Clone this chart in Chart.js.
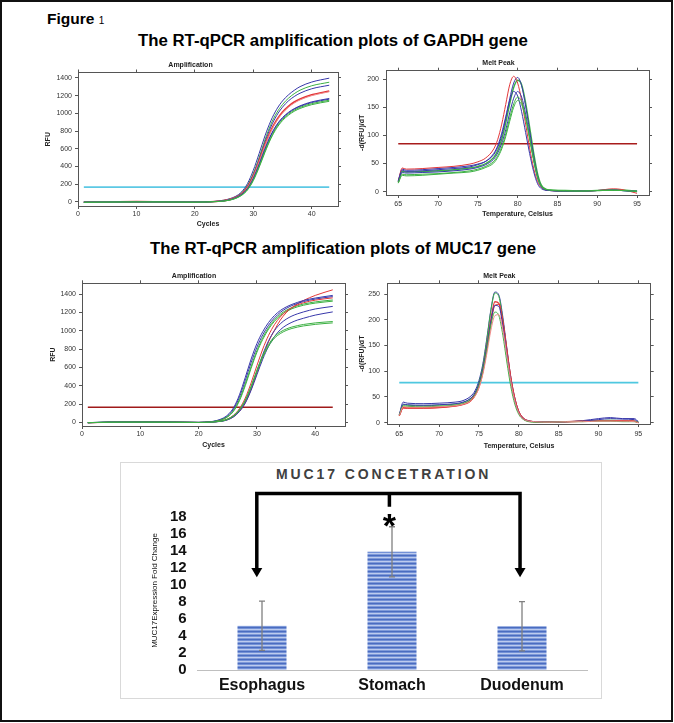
<!DOCTYPE html>
<html>
<head>
<meta charset="utf-8">
<title>Figure 1</title>
<script src="https://cdn.jsdelivr.net/npm/chart.js@4.4.1/dist/chart.umd.min.js"></script>
<style>
  body { margin: 0; background: #fff; font-family: 'Liberation Sans', Arial, sans-serif; }
  #page { position: relative; width: 674px; height: 723px; overflow: hidden; background: #fff; }
  #frame { position: absolute; left: 0; top: 0; width: 673px; height: 722px; box-sizing: border-box; border: 2px solid #111; }
  .txt { position: absolute; line-height: 1; white-space: nowrap; color: #000; font-weight: bold; }
  canvas { position: absolute; }
  #barBox { position: absolute; left: 120px; top: 462px; width: 482px; height: 237px; box-sizing: border-box; border: 1.5px solid #d9d9d9; }
</style>
</head>
<body>
<div id="page">
  <div id="frame"></div>
  <div class="txt" style="left:47px; top:11px; font-size:15.5px;">Figure <span style="font-size:10px; font-weight:normal;">1</span></div>
  <div class="txt" style="left:138px; top:32.5px; font-size:16.8px;">The RT-qPCR amplification plots of GAPDH gene</div>
  <div class="txt" style="left:150px; top:240.8px; font-size:16.8px;">The RT-qPCR amplification plots of MUC17 gene</div>

  <canvas id="gapdhAmp" width="310" height="180" style="left:40px; top:55px;"></canvas>
  <canvas id="gapdhMelt" width="316" height="180" style="left:345px; top:55px;"></canvas>
  <canvas id="mucAmp" width="320" height="192" style="left:40px; top:262px;"></canvas>
  <canvas id="mucMelt" width="320" height="192" style="left:345px; top:262px;"></canvas>

  <div id="barBox"></div>
  <div class="txt" style="left:276px; top:466.5px; font-size:14px; letter-spacing:2.9px; color:#404040;">MUC17 CONCETRATION</div>
  <canvas id="barChart" width="479" height="235" style="left:121px; top:463px;"></canvas>
</div>

<script>
// ---------- data ----------

// amplification plots: RFU at these cycles
const ampCycles = [1, 5, 10, 15, 20, 22, 24, 25, 26, 27, 28, 29, 30, 31, 32, 33, 34, 35, 36, 37, 38, 40, 43];
const ampXTicks = [0, 10, 20, 30, 40];
const ampYTicks = [0, 200, 400, 600, 800, 1000, 1200, 1400];

// GAPDH
const gapdhBlue1  = [-6, -4, -2, -3, -4, -1, 8, 18, 35, 62, 112, 205, 355, 545, 745, 915, 1045, 1140, 1208, 1260, 1302, 1354, 1398];
const gapdhGreen1 = [-5, -3, -1, -3, -4, -2, 6, 15, 30, 55, 100, 185, 320, 500, 700, 875, 1005, 1100, 1170, 1222, 1262, 1312, 1352];
const gapdhBlue2  = [-4, -3, 0, -2, -3, -1, 6, 14, 28, 52, 95, 175, 305, 480, 675, 845, 975, 1070, 1140, 1190, 1228, 1278, 1318];
const gapdhRed1   = [-3, -2, 1, -1, -2, 0, 6, 13, 27, 50, 90, 165, 290, 460, 645, 805, 925, 1015, 1080, 1128, 1163, 1210, 1252];
const gapdhRed2   = [-4, -2, 0, -2, -3, -1, 5, 12, 25, 47, 86, 160, 282, 450, 632, 792, 912, 1003, 1068, 1116, 1152, 1200, 1244];
const gapdhBlue3  = [-5, -3, -1, -2, -4, -2, 4, 11, 24, 46, 84, 150, 265, 425, 600, 755, 870, 952, 1010, 1053, 1085, 1130, 1168];
const gapdhBlue4  = [-4, -3, 0, -2, -3, -1, 4, 10, 22, 43, 80, 145, 258, 415, 590, 745, 862, 945, 1003, 1046, 1078, 1122, 1160];
const gapdhGreen2 = [-6, -4, -2, -3, -5, -3, 3, 9, 20, 40, 76, 138, 248, 400, 572, 725, 845, 930, 990, 1035, 1067, 1110, 1148];
const gapdhGreen3 = [-5, -3, -1, -2, -4, -2, 3, 9, 19, 38, 72, 132, 238, 388, 558, 712, 832, 918, 978, 1023, 1055, 1098, 1136];
const gapdhAmpThresholdX = [1, 43];
const gapdhAmpThreshold = 165;

// MUC17
const mucBlue1  = [-4, 2, 3, 2, -1, 6, 40, 82, 160, 300, 490, 690, 860, 990, 1090, 1165, 1220, 1258, 1287, 1310, 1330, 1356, 1385];
const mucBlue2  = [-3, 3, 4, 3, 0, 5, 35, 72, 145, 275, 455, 650, 820, 955, 1060, 1140, 1200, 1242, 1274, 1298, 1318, 1345, 1372];
const mucGreen1 = [-4, 1, 2, 1, -2, 4, 30, 65, 130, 250, 420, 610, 785, 925, 1035, 1118, 1180, 1222, 1252, 1274, 1291, 1314, 1335];
const mucGreen2 = [-3, 2, 3, 2, -1, 4, 28, 60, 122, 235, 400, 590, 765, 905, 1018, 1102, 1165, 1208, 1239, 1261, 1278, 1301, 1322];
const mucRed1   = [-5, 0, 2, 1, -2, 2, 14, 30, 62, 120, 215, 360, 540, 720, 880, 1005, 1115, 1195, 1250, 1295, 1330, 1385, 1446];
const mucRed2   = [-4, 1, 3, 2, -1, 3, 18, 38, 78, 150, 265, 430, 620, 800, 950, 1065, 1150, 1210, 1252, 1283, 1305, 1333, 1358];
const mucBlue3  = [-3, 2, 3, 2, -1, 3, 15, 33, 68, 130, 230, 380, 560, 740, 890, 1000, 1075, 1125, 1160, 1185, 1205, 1237, 1265];
const mucBlue4  = [-4, 1, 2, 1, -2, 2, 12, 28, 60, 118, 210, 350, 520, 690, 830, 935, 1010, 1058, 1092, 1117, 1136, 1170, 1205];
const mucGreen3 = [-3, 2, 3, 2, -1, 3, 16, 36, 74, 140, 245, 395, 570, 730, 850, 935, 985, 1018, 1040, 1056, 1068, 1085, 1100];
const mucGreen4 = [-4, 1, 2, 1, -2, 2, 14, 33, 70, 133, 235, 382, 555, 712, 832, 918, 968, 1002, 1024, 1040, 1052, 1069, 1085];
const mucAmpThresholdX = [1, 43];
const mucAmpThreshold = 164;

// melt peaks: -d(RFU)/dT at these temperatures
const meltXTicks = [65, 70, 75, 80, 85, 90, 95];
const gapdhMeltYTicks = [0, 50, 100, 150, 200];
const mucMeltYTicks = [0, 50, 100, 150, 200, 250];

const gapdhTemps = [65, 65.5, 66, 68, 70, 72, 74, 75, 76, 77, 77.5, 78, 78.5, 79, 79.5, 80, 80.5, 81, 81.5, 82, 82.5, 83, 84, 86, 88, 90, 92, 93, 95];
const gapdhMeltRed    = [18, 42, 40, 41, 43, 45, 49, 53, 60, 76, 93, 120, 155, 190, 205, 193, 162, 120, 78, 42, 18, 7, 2, 1, 1, 2, 5, 4, -3];
const gapdhMeltBlue1  = [20, 40, 38, 39, 41, 43, 46, 49, 54, 66, 79, 100, 130, 165, 193, 203, 188, 152, 108, 64, 28, 9, 2, 1, 1, 2, 3, 2, 0];
const gapdhMeltGreen1 = [17, 36, 35, 36, 37, 39, 42, 45, 50, 61, 73, 93, 122, 156, 185, 198, 190, 158, 115, 70, 32, 11, 3, 2, 1, 2, 3, 3, 1];
const gapdhMeltBlue2  = [19, 38, 36, 37, 39, 41, 44, 48, 54, 68, 82, 104, 133, 162, 178, 170, 142, 105, 68, 36, 14, 5, 2, 1, 1, 2, 2, 2, 1];
const gapdhMeltBlue3  = [18, 34, 33, 34, 35, 37, 40, 43, 48, 58, 69, 86, 110, 140, 166, 178, 168, 138, 98, 58, 25, 8, 2, 1, 1, 2, 3, 2, 0];
const gapdhMeltGreen2 = [16, 31, 30, 31, 32, 34, 37, 40, 45, 54, 64, 80, 103, 131, 156, 168, 160, 133, 96, 58, 26, 9, 3, 1, 1, 2, 3, 2, 1];
const gapdhMeltGreen3 = [15, 29, 28, 29, 31, 33, 35, 38, 43, 51, 61, 76, 98, 125, 150, 162, 155, 130, 94, 56, 25, 9, 3, 2, 1, 2, 2, 2, 0];
const gapdhMeltThresholdX = [65, 95];
const gapdhMeltThreshold = 85;

const mucTemps = [65, 65.5, 66, 68, 70, 72, 73, 74, 74.5, 75, 75.5, 76, 76.5, 77, 77.5, 78, 78.5, 79, 79.5, 80, 80.5, 81, 82, 84, 86, 88, 90, 91.5, 93, 94.5, 95];
const mucMeltBlue1  = [15, 40, 38, 37, 38, 40, 43, 52, 62, 82, 115, 165, 220, 254, 248, 205, 145, 88, 48, 22, 10, 5, 2, 1, 2, 4, 8, 10, 8, 8, 2];
const mucMeltGreen1 = [14, 35, 34, 33, 34, 36, 39, 48, 58, 78, 112, 162, 218, 252, 245, 200, 140, 84, 45, 20, 9, 4, 2, 1, 2, 3, 4, 5, 4, 3, 1];
const mucMeltRed1   = [14, 30, 29, 29, 30, 33, 36, 44, 54, 72, 102, 148, 200, 235, 232, 195, 140, 86, 46, 21, 9, 4, 2, 1, 2, 3, 4, 4, 4, 3, 0];
const mucMeltBlue2  = [16, 36, 35, 34, 35, 37, 40, 48, 58, 76, 106, 150, 198, 228, 226, 188, 133, 80, 42, 19, 8, 4, 2, 1, 2, 3, 6, 8, 7, 6, 1];
const mucMeltRed2   = [13, 28, 28, 28, 29, 32, 35, 42, 52, 68, 98, 142, 192, 228, 230, 196, 142, 88, 48, 22, 10, 5, 2, 1, 2, 3, 4, 4, 3, 3, 0];
const mucMeltGreen2 = [15, 33, 32, 31, 32, 34, 37, 45, 54, 72, 100, 143, 190, 215, 208, 170, 118, 70, 36, 16, 7, 3, 1, 1, 2, 2, 3, 3, 2, 2, 1];
const mucMeltRed3   = [14, 31, 30, 30, 31, 33, 36, 43, 52, 68, 95, 135, 180, 208, 210, 180, 130, 80, 42, 19, 8, 4, 2, 1, 2, 2, 3, 3, 3, 2, 0];
const mucMeltThresholdX = [65, 95];
const mucMeltThreshold = 78;

// bar chart: fold change with error (+/-)
const tissues = ['Esophagus', 'Stomach', 'Duodenum'];
const foldChange = [5.2, 13.9, 5.15];
const foldError = [2.9, 2.95, 2.9];
const foldTicks = [0, 2, 4, 6, 8, 10, 12, 14, 16, 18];

// ---------- drawing ----------
const FONT = "'Liberation Sans', Arial, sans-serif";
const BLUE = '#3737aa';
const GREEN = '#3cb043';
const RED = '#e3383a';
const PINK = '#f08a8a';

function toPoints(xs, ys) {
    return xs.map((x, i) => ({ x: x, y: ys[i] }));
}

// one traced curve
function curve(xs, ys, color, width) {
    return {
        data: toPoints(xs, ys),
        borderColor: color,
        borderWidth: width || 1,
        pointRadius: 0,
        cubicInterpolationMode: 'monotone',
        fill: false
    };
}

// flat threshold line between two x values
function threshold(xs, level, color) {
    return {
        data: xs.map(x => ({ x: x, y: level })),
        borderColor: color,
        borderWidth: 1.6,
        pointRadius: 0,
        fill: false
    };
}

// options shared by the four small instrument plots
function plotOptions(p) {
    const tickFont = { family: FONT, size: 7 };
    const boldFont = { family: FONT, size: 7, weight: 'bold' };
    const frame = { display: true, color: '#555', width: 1 };
    const marks = { drawOnChartArea: false, drawTicks: true, tickLength: 3, color: '#555' };
    const setTicks = list => (s => { s.ticks = list.map(v => ({ value: v })); });
    return {
        responsive: false,
        animation: false,
        layout: { padding: { left: 0, top: 0, right: p.padRight, bottom: 0 } },
        plugins: {
            legend: { display: false },
            tooltip: { enabled: false },
            title: {
                display: true, text: p.title, font: boldFont, color: '#222',
                padding: { top: p.titleTop, bottom: p.titleHeight - 8.4 - p.titleTop }
            }
        },
        scales: {
            x: {
                type: 'linear', position: 'bottom', min: p.xMin, max: p.xMax,
                border: frame, grid: marks,
                afterBuildTicks: setTicks(p.xTicks),
                afterFit: s => { s.height = p.xHeight; },
                ticks: { font: tickFont, color: '#333', padding: p.xTickPad, maxRotation: 0, autoSkip: false, callback: v => String(v) },
                title: { display: true, text: p.xTitle, font: boldFont, color: '#222', padding: { top: 0, bottom: p.xTitlePad } }
            },
            x2: {
                type: 'linear', position: 'top', min: p.xMin, max: p.xMax,
                border: frame, grid: marks,
                afterBuildTicks: setTicks(p.xTicks),
                afterFit: s => { s.height = 3; },
                ticks: { display: false }
            },
            y: {
                type: 'linear', position: 'left', min: p.yMin, max: p.yMax,
                border: frame, grid: marks,
                afterBuildTicks: setTicks(p.yTicks),
                afterFit: s => { s.width = p.yWidth; },
                ticks: { font: tickFont, color: '#333', padding: p.yTickPad, autoSkip: false, callback: v => String(v) },
                title: { display: true, text: p.yTitle, font: boldFont, color: '#222', padding: { top: p.yTitlePad, bottom: 0 } }
            },
            y2: {
                type: 'linear', position: 'right', min: p.yMin, max: p.yMax,
                border: frame, grid: marks,
                afterBuildTicks: setTicks(p.yTicks),
                afterFit: s => { s.width = 3; },
                ticks: { display: false }
            }
        }
    };
}

function drawPlot(id, datasets, p) {
    new Chart(document.getElementById(id), {
        type: 'line',
        data: { datasets: datasets },
        options: plotOptions(p)
    });
}

// GAPDH amplification
drawPlot('gapdhAmp', [
    curve(ampCycles, gapdhGreen3, GREEN),
    curve(ampCycles, gapdhGreen2, GREEN),
    curve(ampCycles, gapdhBlue4, BLUE),
    curve(ampCycles, gapdhBlue3, BLUE),
    curve(ampCycles, gapdhRed2, PINK),
    curve(ampCycles, gapdhRed1, RED, 1.6),
    curve(ampCycles, gapdhBlue2, BLUE),
    curve(ampCycles, gapdhGreen1, GREEN),
    curve(ampCycles, gapdhBlue1, BLUE),
    threshold(gapdhAmpThresholdX, gapdhAmpThreshold, '#5cc8e4')
], {
    title: 'Amplification', xTitle: 'Cycles', yTitle: 'RFU',
    xMin: 0, xMax: 44.5, yMin: -48, yMax: 1462, xTicks: ampXTicks, yTicks: ampYTicks,
    padRight: 9, titleTop: 5.8, titleHeight: 14.5,
    yWidth: 38, yTickPad: 3, yTitlePad: 3.8,
    xHeight: 29, xTickPad: 0.8, xTitlePad: 6.3
});

// GAPDH melt peak
drawPlot('gapdhMelt', [
    curve(gapdhTemps, gapdhMeltGreen3, GREEN),
    curve(gapdhTemps, gapdhMeltGreen2, GREEN),
    curve(gapdhTemps, gapdhMeltBlue3, BLUE),
    curve(gapdhTemps, gapdhMeltBlue2, BLUE),
    curve(gapdhTemps, gapdhMeltRed, RED),
    curve(gapdhTemps, gapdhMeltBlue1, BLUE),
    curve(gapdhTemps, gapdhMeltGreen1, GREEN, 1.4),
    threshold(gapdhMeltThresholdX, gapdhMeltThreshold, '#a81c1c')
], {
    title: 'Melt Peak', xTitle: 'Temperature, Celsius', yTitle: '-d(RFU)/dT',
    xMin: 63.46, xMax: 96.5, yMin: -6, yMax: 215, xTicks: meltXTicks, yTicks: gapdhMeltYTicks,
    padRight: 9, titleTop: 3.8, titleHeight: 12.7,
    yWidth: 41, yTickPad: 4, yTitlePad: 12.8,
    xHeight: 40, xTickPad: 2.3, xTitlePad: 16.8
});

// MUC17 amplification
drawPlot('mucAmp', [
    curve(ampCycles, mucGreen4, GREEN),
    curve(ampCycles, mucGreen3, GREEN),
    curve(ampCycles, mucBlue4, BLUE),
    curve(ampCycles, mucBlue3, BLUE),
    curve(ampCycles, mucRed2, RED),
    curve(ampCycles, mucGreen2, GREEN),
    curve(ampCycles, mucGreen1, GREEN),
    curve(ampCycles, mucBlue2, BLUE),
    curve(ampCycles, mucBlue1, BLUE),
    curve(ampCycles, mucRed1, RED),
    threshold(mucAmpThresholdX, mucAmpThreshold, '#a01a1a')
], {
    title: 'Amplification', xTitle: 'Cycles', yTitle: 'RFU',
    xMin: 0, xMax: 45.1, yMin: -40, yMax: 1517, xTicks: ampXTicks, yTicks: ampYTicks,
    padRight: 12, titleTop: 9.8, titleHeight: 18.3,
    yWidth: 42, yTickPad: 3, yTitlePad: 8.8,
    xHeight: 28, xTickPad: 0.8, xTitlePad: 4.8
});

// MUC17 melt peak
drawPlot('mucMelt', [
    curve(mucTemps, mucMeltRed3, PINK),
    curve(mucTemps, mucMeltGreen2, GREEN),
    curve(mucTemps, mucMeltBlue2, BLUE),
    curve(mucTemps, mucMeltRed2, RED),
    curve(mucTemps, mucMeltRed1, RED, 1.4),
    curve(mucTemps, mucMeltGreen1, GREEN),
    curve(mucTemps, mucMeltBlue1, BLUE),
    threshold(mucMeltThresholdX, mucMeltThreshold, '#4fc8e0')
], {
    title: 'Melt Peak', xTitle: 'Temperature, Celsius', yTitle: '-d(RFU)/dT',
    xMin: 63.5, xMax: 96.55, yMin: -2.5, yMax: 271, xTicks: meltXTicks, yTicks: mucMeltYTicks,
    padRight: 11.3, titleTop: 9.5, titleHeight: 18.3,
    yWidth: 42.3, yTickPad: 4.3, yTitlePad: 12.5,
    xHeight: 30, xTickPad: 3.1, xTitlePad: 3.8
});

// striped blue fill like the original bars
function stripePattern(ctx) {
    const c = document.createElement('canvas');
    c.width = 4;
    c.height = 4;
    const g = c.getContext('2d');
    const rows = ['#4a6cc0', '#7391d6', '#bccbee', '#7f9ad9'];
    rows.forEach((col, i) => { g.fillStyle = col; g.fillRect(0, i, 4, 1); });
    return ctx.createPattern(c, 'repeat');
}

// gray error bars on each bar
const errorBars = {
    id: 'errorBars',
    afterDatasetsDraw(chart) {
        const ctx = chart.ctx;
        const y = chart.scales.y;
        const bars = chart.getDatasetMeta(0).data;
        ctx.save();
        ctx.strokeStyle = '#808080';
        ctx.lineWidth = 1.3;
        bars.forEach((bar, i) => {
            const top = y.getPixelForValue(foldChange[i] + foldError[i]);
            const bot = y.getPixelForValue(foldChange[i] - foldError[i]);
            ctx.beginPath();
            ctx.moveTo(bar.x, top); ctx.lineTo(bar.x, bot);
            ctx.moveTo(bar.x - 3, top); ctx.lineTo(bar.x + 3, top);
            ctx.moveTo(bar.x - 3, bot); ctx.lineTo(bar.x + 3, bot);
            ctx.stroke();
        });
        ctx.restore();
    }
};

// the comparison bracket with arrows and the asterisk
const bracket = {
    id: 'bracket',
    afterDraw(chart, args, o) {
        const ctx = chart.ctx;
        const x = chart.scales.x;
        const y = chart.scales.y;
        const xl = x.getPixelForValue(o.leftAt);
        const xr = x.getPixelForValue(o.rightAt);
        const xm = x.getPixelForValue(o.midAt);
        const top = y.getPixelForValue(o.level);
        const base = y.getPixelForValue(o.headBase);
        const tip = y.getPixelForValue(o.tip);
        ctx.save();
        ctx.strokeStyle = '#000';
        ctx.fillStyle = '#000';
        ctx.lineWidth = 3.5;
        ctx.lineJoin = 'miter';
        ctx.beginPath();
        ctx.moveTo(xl, base);
        ctx.lineTo(xl, top);
        ctx.lineTo(xr, top);
        ctx.lineTo(xr, base);
        ctx.moveTo(xm, top);
        ctx.lineTo(xm, y.getPixelForValue(o.stubEnd));
        ctx.stroke();
        [xl, xr].forEach(px => {
            ctx.beginPath();
            ctx.moveTo(px - 5.5, base);
            ctx.lineTo(px + 5.5, base);
            ctx.lineTo(px, tip);
            ctx.closePath();
            ctx.fill();
        });
        ctx.font = 'bold 34px ' + FONT;
        ctx.textAlign = 'center';
        ctx.textBaseline = 'alphabetic';
        ctx.fillText('*', xm, y.getPixelForValue(o.star) + 19.5);
        ctx.restore();
    }
};

const barCanvas = document.getElementById('barChart');
new Chart(barCanvas, {
    type: 'bar',
    data: {
        labels: tissues,
        datasets: [{
            data: foldChange,
            backgroundColor: stripePattern(barCanvas.getContext('2d')),
            borderWidth: 0,
            barPercentage: 0.377,
            categoryPercentage: 1
        }]
    },
    options: {
        responsive: false,
        animation: false,
        layout: { padding: { left: 0, top: 48, right: 13, bottom: 0 } },
        plugins: {
            legend: { display: false },
            tooltip: { enabled: false },
            bracket: { leftAt: -0.04, rightAt: 1.985, midAt: 0.98, level: 20.75, headBase: 12.0, tip: 10.9, stubEnd: 19.2, star: 17.9 }
        },
        scales: {
            x: {
                grid: { display: false, drawTicks: false },
                border: { display: true, color: '#bfbfbf', width: 1 },
                afterFit: s => { s.height = 28; },
                ticks: { font: { family: FONT, size: 16, weight: 'bold' }, color: '#111', padding: 6.1 }
            },
            y: {
                min: 0, max: 18.7,
                grid: { display: false, drawTicks: false },
                border: { display: false },
                afterBuildTicks: s => { s.ticks = foldTicks.map(v => ({ value: v })); },
                afterFit: s => { s.width = 76; },
                ticks: { font: { family: FONT, size: 15, weight: 'bold' }, color: '#111', padding: 10.3, autoSkip: false },
                title: {
                    display: true, text: 'MUC17Expression Fold Change', color: '#111',
                    font: { family: FONT, size: 8 },
                    padding: { top: 29.2, bottom: 0 }
                }
            }
        }
    },
    plugins: [errorBars, bracket]
});
</script>
</body>
</html>
